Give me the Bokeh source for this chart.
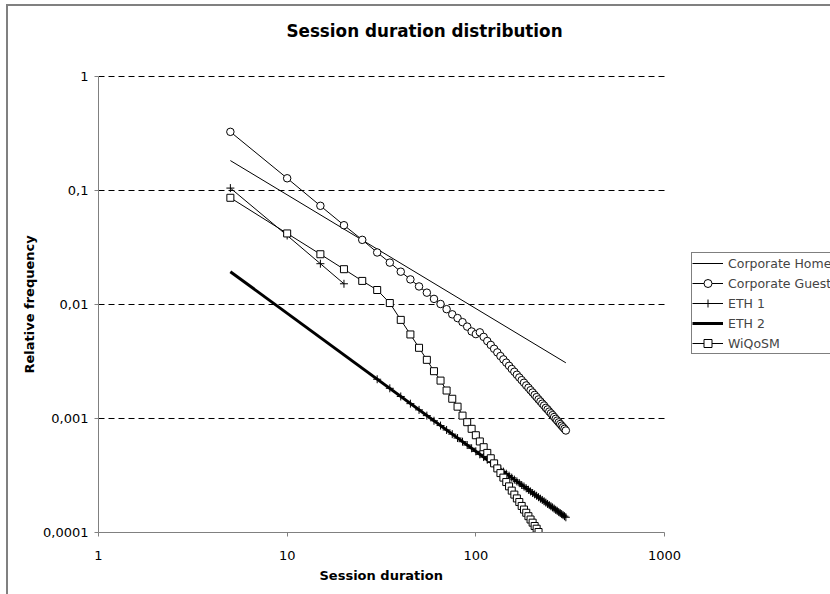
import math
from bokeh.plotting import figure
from bokeh.models import Range1d, FixedTicker, Legend, LegendItem, Title, Label, InlineStyleSheet
from bokeh.embed import file_html
from bokeh.resources import INLINE

nan = float("nan")

# ---- data ----
home_x = [5, 300]
home_y = [0.183, 0.00308]

guest_x = [5, 10, 15, 20, 25, 30, 35, 40, 45, 50, 55, 60, 65, 70, 75, 80, 85, 90, 95, 100,
           105, 110, 115, 120, 125, 130, 135, 140, 145, 150, 155, 160, 165, 170, 175, 180, 185, 190, 195, 200,
           205, 210, 215, 220, 225, 230, 235, 240, 245, 250, 255, 260, 265, 270, 275, 280, 285, 290, 295, 300]
guest_y = [0.327, 0.128, 0.0734, 0.0496, 0.0369, 0.0286, 0.0233, 0.0194, 0.0166, 0.0144,
           0.0127, 0.0112, 0.0101, 0.0091, 0.0082, 0.0076, 0.0070, 0.0064, 0.0058, 0.0055,
           0.0057, 0.0052, 0.00478, 0.00442, 0.00409, 0.0038, 0.00353, 0.0033, 0.00309, 0.0029,
           0.00272, 0.00257, 0.00242, 0.00229, 0.00217, 0.00206, 0.00195, 0.00186, 0.00177, 0.00169,
           0.00161, 0.00154, 0.00147, 0.00141, 0.00135, 0.0013, 0.00124, 0.0012, 0.00115, 0.00111,
           0.00107, 0.00103, 0.000993, 0.000958, 0.000925, 0.000894, 0.000865, 0.000837, 0.000811, 0.000785]

eth1_x = [5, 10, 15, 20, 25, 30, 35, 40, 45, 50, 55, 60, 65, 70, 75, 80, 85, 90, 95, 100,
          105, 110, 115, 120, 125, 130, 135, 140, 145, 150, 155, 160, 165, 170, 175, 180, 185, 190, 195, 200,
          205, 210, 215, 220, 225, 230, 235, 240, 245, 250, 255, 260, 265, 270, 275, 280, 285, 290, 295, 300]
eth1_y = [0.105, 0.0403, 0.0228, 0.0152, nan,
          0.00221, 0.00184, 0.00156, 0.00135, 0.00119, 0.00106, 0.000955, 0.000867, 0.000793, 0.000729,
          0.000674, 0.000626, 0.000585, 0.000548, 0.000515, 0.000485, 0.000459, 0.000435, 0.000413, 0.000393,
          0.000375, 0.000358, 0.000342, 0.000328, 0.000315, 0.000303, 0.000291, 0.000281, 0.000271, 0.000261,
          0.000253, 0.000244, 0.000237, 0.000229, 0.000222, 0.000216, 0.00021, 0.000204, 0.000198, 0.000193,
          0.000188, 0.000183, 0.000178, 0.000174, 0.00017, 0.000166, 0.000162, 0.000158, 0.000155, 0.000151,
          0.000148, 0.000145, 0.000142, 0.000139, 0.000136]

eth2_x = [5, 300]
eth2_y = [0.0194, 0.000136]

wiqosm_x = [5, 10, 15, 20, 25, 30, 35, 40, 45, 50, 55, 60, 65, 70, 75, 80, 85, 90, 95, 100,
            105, 110, 115, 120, 125, 130, 135, 140, 145, 150, 155, 160, 165, 170, 175, 180, 185, 190, 195, 200,
            205, 210, 215]
wiqosm_y = [0.0863, 0.042, 0.0276, 0.0204, 0.0161, 0.0134, 0.0103, 0.00733, 0.00546, 0.00417,
            0.00327, 0.0026, 0.00215, 0.00176, 0.00149, 0.00127, 0.00106, 0.000928, 0.000812, 0.000713,
            0.000629, 0.00056, 0.000499, 0.000448, 0.000404, 0.000365, 0.000332, 0.000303, 0.000277, 0.000254,
            0.000233, 0.000215, 0.000199, 0.000185, 0.000171, 0.000159, 0.000149, 0.000139, 0.00013, 0.000122,
            0.000114, 0.000108, 0.000101]

x_ticks = [1, 10, 100, 1000]
x_tick_labels = ["1", "10", "100", "1000"]
y_ticks = [0.0001, 0.001, 0.01, 0.1, 1]
y_tick_labels = ["0,0001", "0,001", "0,01", "0,1", "1"]

series_names = ["Corporate Home", "Corporate Guest", "ETH 1", "ETH 2", "WiQoSM"]

FONT = "DejaVu Sans"

# ---- layout (pixels) ----
W, H = 830, 594
AX_L, AX_R, AX_T, AX_B = 98, 664, 76, 532   # where the axes start / end on the canvas

# the frame reaches the right and top canvas edges so the legend/title are not clipped;
# the axes are bounded to the tick range
x_dec = math.log10(x_ticks[-1] / x_ticks[0])
y_dec = math.log10(y_ticks[-1] / y_ticks[0])
x_end = x_ticks[0] * 10 ** (x_dec * (W - AX_L) / (AX_R - AX_L))
y_end = y_ticks[0] * 10 ** (y_dec * AX_B / (AX_B - AX_T))

p = figure(width=W, height=H, x_axis_type="log", y_axis_type="log",
           x_range=Range1d(x_ticks[0], x_end), y_range=Range1d(y_ticks[0], y_end),
           output_backend="svg", toolbar_location=None,
           min_border_left=AX_L, min_border_right=0, min_border_top=0, min_border_bottom=H - AX_B)
p.outline_line_color = None
p.background_fill_color = "white"
p.border_fill_color = "white"
p.stylesheets = [InlineStyleSheet(css=(
    ":host { position: relative; }"
    ":host::after { content: ''; position: absolute; left: 6px; top: 4px; right: 0; bottom: 0;"
    " border-left: 2px solid #808080; border-top: 2px solid #808080;"
    " pointer-events: none; z-index: 100; }"))]

# axes
p.xaxis.ticker = FixedTicker(ticks=x_ticks, minor_ticks=[])
p.yaxis.ticker = FixedTicker(ticks=y_ticks, minor_ticks=[])
p.xaxis.bounds = (x_ticks[0], x_ticks[-1])
p.yaxis.bounds = (y_ticks[0], y_ticks[-1])
p.xaxis.major_label_overrides = dict(zip(x_ticks, x_tick_labels))
p.yaxis.major_label_overrides = dict(zip(y_ticks, y_tick_labels))
for ax in (p.xaxis, p.yaxis):
    ax.axis_line_color = "#808080"
    ax.axis_line_width = 1
    ax.major_tick_line_color = "#808080"
    ax.major_tick_in = 0
    ax.major_tick_out = 4
    ax.minor_tick_line_color = None
    ax.major_label_text_font = FONT
    ax.major_label_text_font_size = "13px"
    ax.major_label_text_color = "black"
p.xaxis.major_label_standoff = 14
p.yaxis.major_label_standoff = 6

# axis titles (offset from the axis start so they sit centred on the bounded axes)
p.add_layout(Title(text="Session duration", align="left", offset=221, standoff=7,
                   text_font=FONT, text_font_size="13px", text_font_style="bold",
                   text_color="black"), "below")
p.add_layout(Title(text="Relative frequency", align="left", offset=159, standoff=7,
                   text_font=FONT, text_font_size="13px", text_font_style="bold",
                   text_color="black"), "left")

# grid: dashed lines only across the axis span
p.xgrid.visible = False
p.ygrid.visible = False
grid_y = y_ticks[1:]
p.segment(x0=x_ticks[0], x1=x_ticks[-1], y0=grid_y, y1=grid_y,
          line_color="black", line_width=1, line_dash="6 4")

# series
r_home = p.line(home_x, home_y, line_color="black", line_width=1)

r_guest_l = p.line(guest_x, guest_y, line_color="black", line_width=1)
r_guest_m = p.scatter(guest_x, guest_y, marker="circle", size=7.5, fill_color="white",
                      line_color="black", line_width=1)

r_eth1_l = p.line(eth1_x, eth1_y, line_color="black", line_width=1)
r_eth1_m = p.scatter(eth1_x, eth1_y, marker="cross", size=8, line_color="black", line_width=1)

r_eth2 = p.line(eth2_x, eth2_y, line_color="black", line_width=3)

r_wiq_l = p.line(wiqosm_x, wiqosm_y, line_color="black", line_width=1)
r_wiq_m = p.scatter(wiqosm_x, wiqosm_y, marker="square", size=7, fill_color="white",
                    line_color="black", line_width=1)

legend = Legend(items=[
    LegendItem(label=series_names[0], renderers=[r_home]),
    LegendItem(label=series_names[1], renderers=[r_guest_l, r_guest_m]),
    LegendItem(label=series_names[2], renderers=[r_eth1_l, r_eth1_m]),
    LegendItem(label=series_names[3], renderers=[r_eth2]),
    LegendItem(label=series_names[4], renderers=[r_wiq_l, r_wiq_m]),
], location=(691 - AX_L, AX_B - 354))
legend.border_line_color = "black"
legend.border_line_width = 1
legend.background_fill_color = "white"
legend.background_fill_alpha = 1
legend.padding = 0
legend.margin = 0
legend.spacing = 0
legend.glyph_width = 31
legend.glyph_height = 20
legend.label_height = 20
legend.label_standoff = 5
legend.label_text_font = FONT
legend.label_text_font_size = "12.5px"
legend.label_text_baseline = "middle"
p.add_layout(legend)

title = Label(x=424 - AX_L, y=AX_B - 30, x_units="screen", y_units="screen",
              text="Session duration distribution", text_align="center", text_baseline="middle",
              text_font=FONT, text_font_size="16.8px", text_font_style="bold", text_color="black")
p.add_layout(title)

open("out.html", "w").write(file_html(p, INLINE))
